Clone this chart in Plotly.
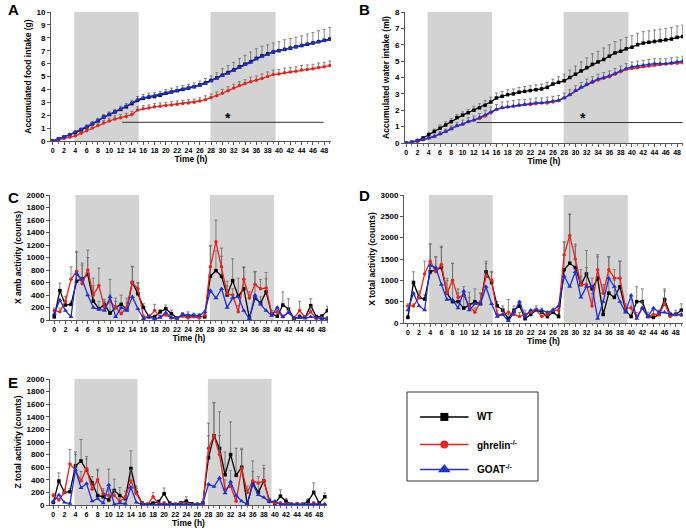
import plotly.graph_objects as go

# ---------------- data ----------------
food_wt = [0, 0.15, 0.3, 0.45, 0.65, 0.85, 1.05, 1.3, 1.55, 1.85, 2.05, 2.25, 2.45, 2.65, 2.9, 3.15, 3.3, 3.4, 3.45, 3.55,
           3.7, 3.8, 3.9, 4.0, 4.1, 4.2, 4.35, 4.5, 4.7, 4.9, 5.1, 5.3, 5.5, 5.75, 5.95, 6.15, 6.4, 6.6, 6.75, 6.9,
           7.0, 7.1, 7.2, 7.3, 7.4, 7.5, 7.6, 7.7, 7.8, 7.9]
food_gh = [0, 0.1, 0.2, 0.3, 0.4, 0.6, 0.8, 1.0, 1.2, 1.4, 1.55, 1.7, 1.8, 1.9, 2.05, 2.4, 2.5, 2.55, 2.65, 2.7,
           2.75, 2.8, 2.85, 2.9, 2.95, 3.0, 3.1, 3.2, 3.35, 3.5, 3.7, 3.9, 4.1, 4.3, 4.45, 4.6, 4.7, 4.85, 5.0, 5.15,
           5.2, 5.3, 5.35, 5.4, 5.5, 5.55, 5.6, 5.7, 5.75, 5.85]
food_goat = [0, 0.15, 0.3, 0.5, 0.7, 0.9, 1.1, 1.35, 1.6, 1.85, 2.05, 2.25, 2.45, 2.7, 2.95, 3.2, 3.35, 3.45, 3.5, 3.6,
             3.7, 3.8, 3.9, 4.0, 4.1, 4.2, 4.3, 4.45, 4.65, 4.85, 5.05, 5.25, 5.45, 5.7, 5.9, 6.1, 6.35, 6.55, 6.7, 6.9,
             7.0, 7.1, 7.2, 7.3, 7.4, 7.5, 7.6, 7.7, 7.8, 7.85]
food_wt_err = [0, 0.05, 0.1, 0.1, 0.15, 0.15, 0.2, 0.2, 0.2, 0.2, 0.2, 0.2, 0.25, 0.25, 0.25, 0.3, 0.3, 0.3, 0.3, 0.3,
               0.3, 0.3, 0.3, 0.3, 0.3, 0.3, 0.3, 0.35, 0.35, 0.4, 0.5, 0.55, 0.6, 0.65, 0.7, 0.75, 0.75, 0.75, 0.7, 0.7,
               0.7, 0.75, 0.75, 0.75, 0.75, 0.8, 0.8, 0.85, 0.85, 0.9]
food_gh_err = [0, 0.05, 0.05, 0.1, 0.1, 0.15, 0.15, 0.2, 0.2, 0.2, 0.2, 0.25, 0.25, 0.25, 0.25, 0.25, 0.25, 0.25, 0.25, 0.25,
               0.25, 0.25, 0.25, 0.25, 0.25, 0.25, 0.25, 0.3, 0.3, 0.3, 0.3, 0.3, 0.3, 0.3, 0.3, 0.35, 0.35, 0.35, 0.35, 0.35,
               0.35, 0.35, 0.35, 0.35, 0.35, 0.35, 0.35, 0.35, 0.35, 0.35]

water_wt = [0, 0.05, 0.15, 0.3, 0.5, 0.7, 0.9, 1.1, 1.3, 1.55, 1.7, 1.85, 2.0, 2.15, 2.3, 2.5, 2.75, 2.85, 2.95, 3.0,
            3.1, 3.15, 3.2, 3.25, 3.3, 3.4, 3.6, 3.7, 3.8, 4.0, 4.2, 4.4, 4.6, 4.8, 4.95, 5.1, 5.3, 5.5, 5.6, 5.75,
            5.85, 6.0, 6.1, 6.15, 6.2, 6.25, 6.3, 6.35, 6.45, 6.5]
water_gh = [0, 0.05, 0.1, 0.2, 0.3, 0.4, 0.55, 0.7, 0.9, 1.05, 1.15, 1.3, 1.4, 1.5, 1.65, 1.85, 2.05, 2.15, 2.2, 2.25,
            2.3, 2.35, 2.35, 2.4, 2.45, 2.45, 2.5, 2.6, 2.75, 2.95, 3.2, 3.4, 3.55, 3.7, 3.85, 3.95, 4.05, 4.2, 4.35, 4.5,
            4.55, 4.6, 4.65, 4.7, 4.75, 4.8, 4.82, 4.85, 4.87, 4.9]
water_goat = [0, 0.05, 0.15, 0.2, 0.3, 0.4, 0.55, 0.7, 0.85, 1.05, 1.15, 1.3, 1.4, 1.55, 1.7, 1.9, 2.05, 2.15, 2.2, 2.25,
              2.3, 2.35, 2.4, 2.45, 2.45, 2.5, 2.55, 2.6, 2.75, 2.95, 3.2, 3.4, 3.6, 3.75, 3.9, 4.0, 4.1, 4.25, 4.4, 4.55,
              4.65, 4.7, 4.75, 4.8, 4.85, 4.85, 4.85, 4.9, 4.95, 5.0]
water_wt_err = [0, 0.05, 0.05, 0.1, 0.15, 0.15, 0.2, 0.2, 0.2, 0.2, 0.2, 0.2, 0.25, 0.25, 0.3, 0.3, 0.3, 0.3, 0.3, 0.3,
                0.3, 0.3, 0.3, 0.3, 0.3, 0.3, 0.3, 0.35, 0.4, 0.45, 0.5, 0.55, 0.6, 0.65, 0.65, 0.7, 0.7, 0.7, 0.7, 0.7,
                0.7, 0.7, 0.7, 0.7, 0.7, 0.7, 0.7, 0.7, 0.7, 0.7]
water_goat_err = [0, 0.05, 0.05, 0.05, 0.1, 0.1, 0.15, 0.15, 0.2, 0.2, 0.25, 0.25, 0.25, 0.25, 0.3, 0.3, 0.3, 0.35, 0.35, 0.35,
                  0.35, 0.3, 0.3, 0.3, 0.3, 0.3, 0.3, 0.3, 0.3, 0.3, 0.3, 0.3, 0.3, 0.3, 0.3, 0.3, 0.3, 0.3, 0.3, 0.3,
                  0.3, 0.3, 0.3, 0.3, 0.3, 0.3, 0.3, 0.3, 0.3, 0.3]

xamb_wt = [50, 470, 240, 250, 620, 660, 730, 300, 180, 250, 110, 200, 250, 170, 600, 420, 200, 50, 50, 130,
           180, 100, 30, 80, 60, 70, 60, 50, 700, 790, 700, 400, 630, 380, 500, 30, 350, 270, 450, 100,
           60, 240, 180, 20, 50, 40, 230, 50, 60, 150]
xamb_gh = [150, 130, 300, 650, 780, 580, 800, 400, 550, 200, 300, 200, 100, 200, 600, 500, 50, 50, 150, 50,
           80, 30, 30, 60, 30, 50, 30, 80, 850, 1250, 850, 420, 400, 130, 650, 350, 570, 500, 510, 100,
           130, 50, 120, 30, 150, 40, 130, 20, 30, 30]
xamb_goat = [100, 320, 150, 50, 740, 650, 400, 200, 170, 150, 370, 50, 200, 150, 370, 180, 20, 50, 20, 40,
             120, 40, 30, 80, 80, 70, 70, 130, 470, 350, 500, 200, 350, 370, 150, 20, 400, 250, 150, 70,
             200, 50, 120, 40, 40, 30, 50, 40, 20, 20]
xamb_wt_err = [30, 120, 50, 50, 480, 250, 390, 370, 120, 80, 540, 150, 150, 100, 260, 170, 60, 30, 30, 40,
               60, 60, 20, 40, 70, 40, 40, 30, 490, 320, 320, 150, 350, 290, 340, 40, 430, 100, 310, 50,
               40, 210, 160, 20, 40, 30, 110, 30, 30, 70]
xamb_gh_err = [40, 60, 80, 200, 300, 300, 200, 150, 280, 100, 100, 100, 100, 150, 250, 100, 30, 30, 100, 30,
               40, 20, 20, 30, 30, 30, 20, 40, 330, 350, 300, 200, 100, 100, 200, 100, 200, 150, 150, 50,
               80, 30, 80, 20, 150, 30, 80, 20, 20, 20]

xtot_wt = [130, 950, 600, 560, 1200, 1250, 1300, 700, 500, 500, 350, 420, 500, 450, 1200, 950, 400, 300, 100, 300,
           400, 100, 200, 300, 250, 150, 250, 150, 1250, 1400, 1300, 900, 1150, 800, 1050, 200, 700, 600, 850, 300,
           150, 500, 500, 150, 130, 200, 550, 200, 200, 300]
xtot_gh = [400, 400, 600, 1150, 1450, 1200, 1370, 700, 1000, 600, 650, 400, 250, 500, 1100, 1000, 200, 200, 250, 200,
           150, 200, 250, 300, 150, 200, 300, 300, 1600, 2050, 1500, 900, 900, 400, 1250, 700, 1250, 1050, 1050, 350,
           350, 150, 350, 150, 200, 200, 450, 150, 200, 180]
xtot_goat = [300, 700, 400, 300, 1350, 1300, 900, 550, 550, 350, 750, 300, 450, 450, 850, 450, 150, 200, 50, 250,
             500, 150, 300, 300, 300, 250, 300, 400, 1100, 850, 1200, 600, 850, 850, 100, 500, 1050, 850, 500, 250,
             650, 100, 350, 150, 350, 250, 250, 200, 200, 200]
xtot_wt_err = [50, 250, 150, 100, 650, 300, 500, 350, 900, 200, 400, 300, 300, 250, 250, 250, 100, 100, 100, 100,
               100, 50, 50, 100, 100, 50, 50, 50, 650, 1150, 550, 350, 550, 250, 550, 100, 850, 400, 600, 100,
               250, 350, 300, 50, 200, 100, 250, 50, 50, 150]
xtot_gh_err = [50, 50, 100, 300, 400, 350, 400, 300, 400, 200, 200, 200, 100, 200, 300, 200, 100, 150, 300, 100,
               100, 100, 50, 50, 100, 50, 50, 50, 300, 500, 300, 200, 400, 300, 300, 200, 300, 200, 400, 100,
               200, 100, 150, 100, 100, 100, 300, 100, 100, 100]

ztot_wt = [40, 380, 200, 210, 620, 700, 550, 350, 150, 130, 80, 230, 150, 100, 580, 200, 30, 10, 30, 50,
           180, 30, 10, 30, 60, 20, 10, 30, 750, 1100, 900, 480, 800, 470, 600, 10, 350, 200, 380, 70,
           20, 140, 60, 10, 10, 10, 60, 200, 30, 130]
ztot_gh = [150, 80, 200, 650, 550, 380, 580, 250, 400, 180, 150, 150, 60, 120, 380, 180, 20, 10, 130, 20,
           30, 10, 10, 20, 20, 10, 10, 20, 900, 1100, 800, 250, 300, 60, 580, 200, 380, 350, 380, 50,
           30, 30, 20, 10, 20, 10, 10, 30, 10, 10]
ztot_goat = [50, 160, 40, 20, 560, 270, 340, 60, 100, 30, 320, 10, 30, 20, 280, 40, 10, 5, 5, 10,
             10, 10, 5, 10, 10, 10, 10, 30, 330, 290, 430, 190, 370, 150, 60, 10, 330, 160, 120, 50,
             60, 10, 10, 10, 10, 10, 10, 10, 10, 10]
ztot_wt_err = [30, 130, 50, 50, 220, 340, 220, 100, 420, 100, 490, 180, 130, 50, 280, 100, 20, 10, 20, 30,
               90, 20, 10, 20, 70, 20, 10, 20, 550, 520, 580, 360, 520, 430, 300, 10, 350, 130, 250, 40,
               30, 100, 40, 10, 10, 10, 40, 150, 20, 60]
ztot_gh_err = [30, 30, 50, 230, 250, 150, 150, 100, 150, 80, 100, 80, 50, 100, 180, 80, 20, 10, 70, 20,
               20, 10, 10, 20, 20, 10, 10, 20, 200, 530, 300, 150, 250, 100, 300, 100, 150, 100, 200, 30,
               30, 20, 20, 10, 20, 10, 10, 20, 10, 10]

dark_periods = [(3.8, 15.2), (27.9, 39.4)]
sig_food = dict(x0=12.3, x1=47.9, y=1.45, star_x=31, star_y=1.8)
sig_water = dict(x0=12.5, x1=49.0, y=1.25, star_x=31.3, star_y=1.55)

x_tick_vals = list(range(0, 49, 2))
group_names = ["WT", "ghrelin<sup>-/-</sup>", "GOAT<sup>-/-</sup>"]
group_colors = ["#000000", "#e8241c", "#1c2fd8"]
group_symbols = ["square", "circle", "triangle-up"]

# ---------------- layout helpers ----------------
W, H = 686, 530
def dx(a, b):
    return [a / W, b / W]
def dy(top, bottom):
    return [1 - bottom / H, 1 - top / H]

FONT = "Liberation Sans"
ERRC = "#6a6a6a"

panels = [
    dict(letter="A", xd=dx(51, 331), yd=dy(12, 141), xr=[-0.3, 49.2], yr=[0, 10], dt=1,
         title="Accumulated food intake (g)",
         series=[(food_wt, food_wt_err), (food_gh, food_gh_err), (food_goat, None)], sig=sig_food,
         lpos=(14, 10)),
    dict(letter="B", xd=dx(405, 683), yd=dy(12, 143), xr=[-0.2, 49.05], yr=[0, 8], dt=1,
         title="Accumulated water intake (ml)",
         series=[(water_wt, water_wt_err), (water_gh, None), (water_goat, water_goat_err)], sig=sig_water,
         lpos=(364, 10)),
    dict(letter="C", xd=dx(50, 328), yd=dy(195, 320), xr=[-0.77, 49.1], yr=[0, 2000], dt=200,
         title="X amb activity (counts)",
         series=[(xamb_wt, xamb_wt_err), (xamb_gh, xamb_gh_err), (xamb_goat, None)], sig=None,
         lpos=(13, 197)),
    dict(letter="D", xd=dx(404, 683), yd=dy(195, 323), xr=[-0.7, 49.3], yr=[0, 3000], dt=500,
         title="X total activity (counts)",
         series=[(xtot_wt, xtot_wt_err), (xtot_gh, xtot_gh_err), (xtot_goat, None)], sig=None,
         lpos=(364, 196)),
    dict(letter="E", xd=dx(50, 327), yd=dy(379, 505), xr=[-0.6, 49.4], yr=[0, 2000], dt=200,
         title="Z total activity (counts)",
         series=[(ztot_wt, ztot_wt_err), (ztot_gh, ztot_gh_err), (ztot_goat, None)], sig=None,
         lpos=(13, 382)),
]

fig = go.Figure()
layout = dict(width=W, height=H, margin=dict(l=0, r=0, t=0, b=0, autoexpand=False),
              paper_bgcolor="white", plot_bgcolor="rgba(0,0,0,0)", showlegend=False,
              font=dict(family=FONT, color="black"))
shapes = []
annotations = []

for i, p in enumerate(panels):
    n = "" if i == 0 else str(i + 1)
    xa, ya = "x" + n, "y" + n
    layout["xaxis" + n] = dict(domain=p["xd"], range=p["xr"], anchor=ya, tickmode="array",
                               tickvals=x_tick_vals, ticktext=[str(v) for v in x_tick_vals],
                               tickangle=0, automargin=False,
                               showgrid=False, zeroline=False, showline=True, linecolor="#555",
                               linewidth=1, ticks="outside", ticklen=3, tickcolor="#555",
                               minor=dict(dtick=1, ticks="outside", ticklen=2, tickcolor="#777"),
                               tickfont=dict(size=7, family=FONT, weight="bold"),
                               title=dict(text="Time (h)", font=dict(size=8.5, family=FONT, weight="bold"),
                                          standoff=1))
    layout["yaxis" + n] = dict(domain=p["yd"], range=p["yr"], anchor=xa, dtick=p["dt"], automargin=False,
                               showgrid=False, zeroline=False, showline=True, linecolor="#555",
                               linewidth=1, ticks="outside", ticklen=3, tickcolor="#555",
                               tickfont=dict(size=8, family=FONT, weight="bold"),
                               title=dict(text=p["title"], font=dict(size=8.5, family=FONT, weight="bold"),
                                          standoff=3))
    for (x0, x1) in dark_periods:
        shapes.append(dict(type="rect", xref=xa, yref=ya + " domain", x0=x0, x1=x1, y0=0, y1=1,
                           fillcolor="#d3d3d3", line=dict(width=0), layer="below"))
    for g, (vals, err) in enumerate(p["series"]):
        tr = dict(x=list(range(len(vals))), y=vals, xaxis=xa, yaxis=ya, mode="lines+markers",
                  line=dict(color=group_colors[g], width=1.3),
                  marker=dict(symbol=group_symbols[g], size=3.5 if g < 2 else 4.5, color=group_colors[g]),
                  showlegend=False, hoverinfo="skip")
        if err is not None:
            tr["error_y"] = dict(type="data", array=err, arrayminus=[0] * len(err), symmetric=False,
                                 color=ERRC, thickness=0.8, width=1.5)
        fig.add_trace(go.Scatter(**tr))
    if p["sig"] is not None:
        s = p["sig"]
        shapes.append(dict(type="line", xref=xa, yref=ya, x0=s["x0"], x1=s["x1"], y0=s["y"], y1=s["y"],
                           line=dict(color="#333", width=1)))
        annotations.append(dict(x=s["star_x"], y=s["star_y"], xref=xa, yref=ya, text="*", showarrow=False,
                                font=dict(size=14, family=FONT, weight="bold")))
    annotations.append(dict(x=p["lpos"][0] / W, y=1 - p["lpos"][1] / H, xref="paper", yref="paper",
                            text=p["letter"], showarrow=False, xanchor="center", yanchor="middle",
                            font=dict(size=15, family=FONT, weight="bold")))

# ---------------- legend box ----------------
lx0, lx1, ly0, ly1 = 407, 538, 392, 481
layout["xaxis6"] = dict(domain=dx(lx0, lx1), range=[0, 1], visible=False, anchor="y6", fixedrange=True)
layout["yaxis6"] = dict(domain=dy(ly0, ly1), range=[0, 1], visible=False, anchor="x6", fixedrange=True)
shapes.append(dict(type="rect", xref="paper", yref="paper", x0=lx0 / W, x1=lx1 / W,
                   y0=1 - ly1 / H, y1=1 - ly0 / H, line=dict(color="#333", width=1)))
leg_rows = [0.72, 0.41, 0.13]
for g in range(3):
    yy = leg_rows[g]
    fig.add_trace(go.Scatter(x=[0.10, 0.47], y=[yy, yy], xaxis="x6", yaxis="y6", mode="lines",
                             line=dict(color=group_colors[g], width=1.5), showlegend=False, hoverinfo="skip"))
    fig.add_trace(go.Scatter(x=[0.285], y=[yy], xaxis="x6", yaxis="y6", mode="markers",
                             marker=dict(symbol=group_symbols[g], size=8 if g < 2 else 11,
                                         color=group_colors[g]),
                             showlegend=False, hoverinfo="skip"))
    annotations.append(dict(x=0.52, y=yy, xref="x6", yref="y6", text=group_names[g], showarrow=False,
                            xanchor="left", yanchor="middle",
                            font=dict(size=10, family=FONT, weight="bold")))

layout["shapes"] = shapes
layout["annotations"] = annotations
fig.update_layout(**layout)
fig.write_html("out.html", config={"displayModeBar": False},
               post_script="document.body.style.margin='0';document.body.style.overflow='hidden';")
